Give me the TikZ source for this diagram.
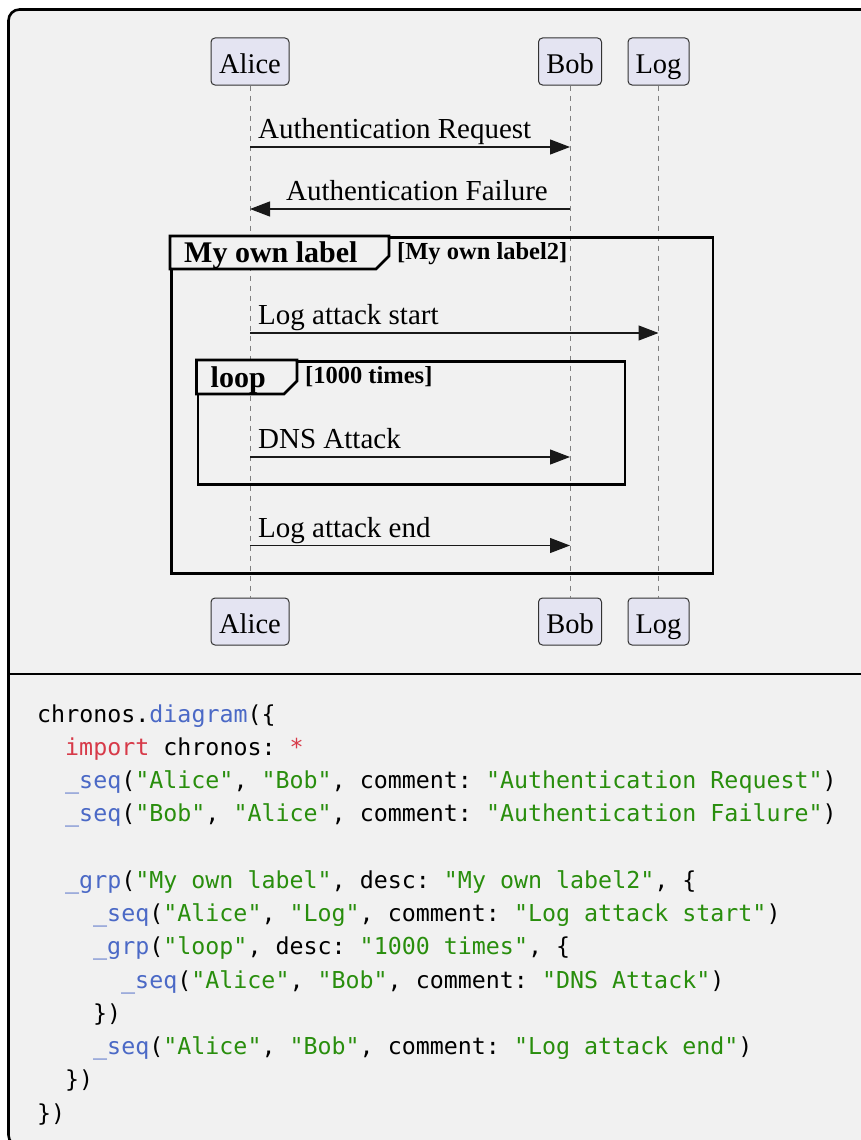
\documentclass[tikz,border=0pt]{standalone}
\usepackage{fontspec}
\setmainfont{Liberation Serif}
\setmonofont{DejaVu Sans Mono}
\usetikzlibrary{arrows.meta}
\definecolor{bg}{HTML}{F1F1F1}
\definecolor{actorfill}{HTML}{E4E4F2}
\definecolor{fncol}{HTML}{4B69C6}
\definecolor{strcol}{HTML}{298E0D}
\definecolor{kwcol}{HTML}{D73A49}
\newcommand{\cfn}[1]{\textcolor{fncol}{#1}}
\newcommand{\cstr}[1]{\textcolor{strcol}{#1}}
\newcommand{\ckw}[1]{\textcolor{kwcol}{#1}}
\begin{document}
\begin{tikzpicture}[x=1pt,y=-1pt,
  actorbox/.style={draw=black!80, fill=actorfill, rounded corners=4pt, line width=1pt,
    inner sep=0pt, minimum height=47pt, font=\fontsize{28.5}{30}\selectfont,
    text height=24pt, text depth=0pt},
  lifeline/.style={draw=black!50, dash pattern=on 5.5pt off 4.5pt, line width=1pt},
  msg/.style={draw=black!90, line width=1.2pt, -{Triangle[length=20pt,width=15pt]}},
  msglabel/.style={font=\fontsize{29}{31}\selectfont, inner sep=0pt, anchor=base west},
  grpframe/.style={draw=black, line width=2.6pt},
  grptitle/.style={font=\bfseries\fontsize{30}{32}\selectfont, inner sep=0pt, anchor=base west},
  grpdesc/.style={font=\bfseries\fontsize{24.5}{26}\selectfont, inner sep=0pt, anchor=base west, fill=bg},
  codeline/.style={font=\ttfamily\fontsize{23.3}{28}\selectfont, inner sep=0pt, anchor=base west}
]
\useasboundingbox (0,0) rectangle (860,1140);
\fill[white] (0,0) rectangle (860,1140);
% outer frame
\draw[line width=2.6pt, fill=bg, rounded corners=11pt] (8.5,9.5) rectangle (880,1146);
\coordinate (divL) at (8.5,674);
\coordinate (divR) at (880,674);
\draw[line width=2.6pt] (divL) -- (divR);

% participants
\node[actorbox, minimum width=78pt] (aT) at (250,61.5) {Alice};
\node[actorbox, minimum width=63pt] (bT) at (570,61.5) {Bob};
\node[actorbox, minimum width=61pt] (lT) at (658.5,61.5) {Log};
\node[actorbox, minimum width=78pt] (aB) at (250,621.5) {Alice};
\node[actorbox, minimum width=63pt] (bB) at (570,621.5) {Bob};
\node[actorbox, minimum width=61pt] (lB) at (658.5,621.5) {Log};

% lifelines
\draw[lifeline] (aT.south) -- (aB.north);
\draw[lifeline] (bT.south) -- (bB.north);
\draw[lifeline] (lT.south) -- (lB.north);

% outer group
\node[grpframe, minimum width=541.5pt, minimum height=336pt, anchor=north west, inner sep=0pt] (g1) at (170,236) {};
\draw[grpframe, fill=bg, line join=miter] (g1.north west) -- (389,236) -- (389,256) -- (376,269) -- (g1.west |- 0,269) -- cycle;
\node[grptitle] (g1t) at (184,262.5) {My own label};
\node[grpdesc] (g1d) at (397,259.5) {[My own label2]};

% inner loop group
\node[grpframe, minimum width=427pt, minimum height=123pt, anchor=north west, inner sep=0pt] (g2) at (196.5,360) {};
\draw[grpframe, fill=bg, line join=miter] (g2.north west) -- (297,360) -- (297,381) -- (284,394) -- (g2.west |- 0,394) -- cycle;
\node[grptitle] (g2t) at (210.5,387) {loop};
\node[grpdesc] (g2d) at (305,383.5) {[1000 times]};

% messages
\coordinate (y1) at (0,147);
\coordinate (y2) at (0,209);
\coordinate (y3) at (0,333);
\coordinate (y4) at (0,457);
\coordinate (y5) at (0,545.5);
\draw[msg] (aT |- y1) -- (bT |- y1);
\node[msglabel] (l1) at (258,138.5) {Authentication Request};
\draw[msg] (bT |- y2) -- (aT |- y2);
\node[msglabel, anchor=base east] (l2) at (548,200.5) {Authentication Failure};
\draw[msg] (aT |- y3) -- (lT.south |- y3);
\node[msglabel] (l3) at (258,324.5) {Log attack start};
\draw[msg] (aT |- y4) -- (bT |- y4);
\node[msglabel] (l4) at (258,448.5) {DNS Attack};
\draw[msg] (aT |- y5) -- (bT |- y5);
\node[msglabel] (l5) at (258,537) {Log attack end};

% code
\node[codeline] (c0) at (37,722) {chronos.\cfn{diagram}(\{};
\node[codeline] (c1) at (65,755.25) {\ckw{import} chronos: \ckw{*}};
\node[codeline] (c2) at (65,788.5) {\cfn{\_seq}(\cstr{"Alice"}, \cstr{"Bob"}, comment: \cstr{"Authentication Request"})};
\node[codeline] (c3) at (65,821.75) {\cfn{\_seq}(\cstr{"Bob"}, \cstr{"Alice"}, comment: \cstr{"Authentication Failure"})};
\node[codeline] (c5) at (65,888.25) {\cfn{\_grp}(\cstr{"My own label"}, desc: \cstr{"My own label2"}, \{};
\node[codeline] (c6) at (93,921.5) {\cfn{\_seq}(\cstr{"Alice"}, \cstr{"Log"}, comment: \cstr{"Log attack start"})};
\node[codeline] (c7) at (93,954.75) {\cfn{\_grp}(\cstr{"loop"}, desc: \cstr{"1000 times"}, \{};
\node[codeline] (c8) at (121,988) {\cfn{\_seq}(\cstr{"Alice"}, \cstr{"Bob"}, comment: \cstr{"DNS Attack"})};
\node[codeline] (c9) at (93,1021.25) {\})};
\node[codeline] (c10) at (93,1054.5) {\cfn{\_seq}(\cstr{"Alice"}, \cstr{"Bob"}, comment: \cstr{"Log attack end"})};
\node[codeline] (c11) at (65,1087.75) {\})};
\node[codeline] (c12) at (37,1121) {\})};
\end{tikzpicture}
\end{document}
